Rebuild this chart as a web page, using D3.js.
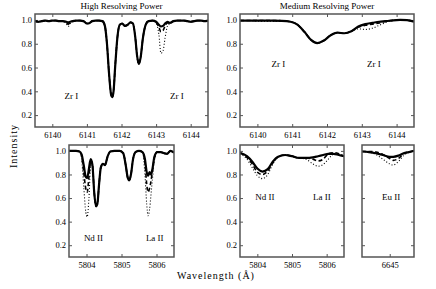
<!DOCTYPE html>
<html>
<head>
<meta charset="utf-8">
<title>Resolving power</title>
<script src="https://d3js.org/d3.v7.min.js"></script>
<style>
  body { margin: 0; background: #fff; }
  text { font-family: "Liberation Serif", "DejaVu Serif", serif; fill: #000; }
</style>
</head>
<body>
<svg id="chart" width="436" height="289"></svg>
<script>
// ---- data ----
var yTicks = [0.2, 0.4, 0.6, 0.8, 1.0];
var zrTicks = [6140, 6141, 6142, 6143, 6144];
var ndLaTicks = [5804, 5805, 5806];
var euTicks = [6645];

// high resolving power, Zr I region
var hrZrWave = [6139.50,6139.60,6139.70,6139.80,6139.90,6140.00,6140.10,6140.20,6140.30,6140.40,
  6140.46,6140.52,6140.60,6140.70,6140.80,6140.90,6141.00,6141.08,6141.15,6141.25,
  6141.35,6141.45,6141.52,6141.58,6141.64,6141.70,6141.73,6141.77,6141.82,6141.88,
  6141.95,6142.02,6142.10,6142.18,6142.26,6142.33,6142.40,6142.45,6142.50,6142.55,
  6142.62,6142.70,6142.78,6142.90,6143.00,6143.08,6143.14,6143.20,6143.26,6143.33,
  6143.40,6143.50,6143.60,6143.80,6143.90,6144.00,6144.10,6144.20,6144.30,6144.40,6144.50];
var hrZrSolid = [0.99,0.985,0.99,0.995,0.99,0.995,0.995,0.99,0.99,0.985,
  0.98,0.985,0.99,0.995,0.995,0.99,0.97,0.975,0.99,0.995,
  0.995,0.99,0.95,0.80,0.55,0.37,0.35,0.40,0.62,0.85,
  0.96,0.97,0.95,0.96,0.98,0.97,0.85,0.70,0.63,0.68,
  0.85,0.96,0.99,0.995,0.985,0.96,0.945,0.95,0.97,0.985,
  0.975,0.99,0.995,0.995,0.99,0.985,0.99,0.995,0.995,0.99,0.995];
var hrZrDashed = [0.99,0.985,0.99,0.995,0.99,0.995,0.995,0.99,0.99,0.98,
  0.965,0.98,0.99,0.995,0.995,0.99,0.97,0.975,0.99,0.995,
  0.995,0.99,0.95,0.80,0.55,0.37,0.35,0.40,0.62,0.85,
  0.96,0.97,0.95,0.96,0.98,0.97,0.85,0.70,0.63,0.68,
  0.85,0.96,0.99,0.995,0.98,0.94,0.90,0.91,0.95,0.975,
  0.97,0.99,0.995,0.995,0.99,0.985,0.99,0.995,0.995,0.99,0.995];
var hrZrDotted = [0.99,0.985,0.99,0.995,0.99,0.995,0.995,0.99,0.99,0.97,
  0.945,0.97,0.99,0.995,0.995,0.99,0.97,0.975,0.99,0.995,
  0.995,0.99,0.95,0.80,0.55,0.37,0.35,0.40,0.62,0.85,
  0.96,0.97,0.95,0.96,0.98,0.97,0.85,0.70,0.63,0.68,
  0.85,0.96,0.99,0.995,0.975,0.88,0.72,0.74,0.85,0.95,
  0.97,0.99,0.995,0.995,0.99,0.985,0.99,0.995,0.995,0.99,0.995];

// medium resolving power, Zr I region
var mrZrWave = [6139.5,6139.8,6140.1,6140.4,6140.7,6140.95,6141.15,6141.35,6141.55,6141.72,
  6141.9,6142.1,6142.3,6142.5,6142.7,6142.9,6143.1,6143.3,6143.5,6143.7,
  6143.9,6144.1,6144.3,6144.5];
var mrZrSolid = [0.995,0.995,0.995,0.995,0.993,0.985,0.96,0.90,0.83,0.805,
  0.825,0.87,0.893,0.888,0.905,0.945,0.965,0.975,0.985,0.99,
  0.997,1.0,0.998,0.985];
var mrZrDashed = [0.995,0.995,0.995,0.995,0.993,0.985,0.96,0.90,0.83,0.805,
  0.825,0.87,0.893,0.888,0.905,0.94,0.955,0.965,0.975,0.99,
  0.997,1.0,0.998,0.985];
var mrZrDotted = [0.995,0.995,0.99,0.99,0.99,0.985,0.96,0.90,0.83,0.805,
  0.825,0.87,0.893,0.888,0.905,0.925,0.92,0.93,0.955,0.98,
  0.995,1.0,0.998,0.985];

// high resolving power, Nd II / La II region
var hrNdWave = [5803.50,5803.60,5803.70,5803.80,5803.86,5803.92,5803.98,5804.02,5804.07,5804.12,
  5804.17,5804.22,5804.27,5804.31,5804.36,5804.41,5804.47,5804.53,5804.60,5804.68,
  5804.80,5804.95,5805.05,5805.12,5805.18,5805.22,5805.27,5805.33,5805.40,5805.50,
  5805.60,5805.67,5805.72,5805.76,5805.80,5805.84,5805.88,5805.94,5806.02,5806.12,
  5806.22,5806.30,5806.40,5806.50];
var hrNdSolid = [1.0,1.0,1.0,0.995,0.97,0.88,0.78,0.77,0.85,0.93,
  0.88,0.65,0.53,0.55,0.72,0.86,0.89,0.88,0.95,0.995,
  1.0,1.0,0.98,0.88,0.77,0.75,0.80,0.93,0.99,1.0,
  0.99,0.93,0.82,0.79,0.82,0.80,0.84,0.95,0.99,0.99,
  0.98,0.975,1.0,0.985];
var hrNdDashed = [1.0,1.0,1.0,0.995,0.96,0.82,0.68,0.65,0.78,0.92,
  0.88,0.65,0.53,0.55,0.72,0.86,0.89,0.88,0.95,0.995,
  1.0,1.0,0.98,0.88,0.77,0.75,0.80,0.93,0.99,1.0,
  0.99,0.90,0.72,0.65,0.68,0.74,0.82,0.94,0.99,0.99,
  0.98,0.975,1.0,0.985];
var hrNdDotted = [1.0,1.0,1.0,0.995,0.93,0.70,0.48,0.44,0.60,0.88,
  0.88,0.65,0.53,0.55,0.72,0.86,0.89,0.88,0.95,0.995,
  1.0,1.0,0.98,0.88,0.77,0.75,0.80,0.93,0.99,1.0,
  0.99,0.80,0.55,0.45,0.50,0.62,0.75,0.92,0.99,0.99,
  0.98,0.975,1.0,0.985];

// medium resolving power, Nd II / La II region
var mrNdWave = [5803.5,5803.7,5803.85,5804.0,5804.15,5804.3,5804.45,5804.6,5804.8,5805.0,
  5805.2,5805.4,5805.6,5805.75,5805.9,5806.05,5806.2,5806.35,5806.5];
var mrNdSolid = [0.985,0.955,0.91,0.85,0.825,0.845,0.91,0.95,0.965,0.955,
  0.94,0.94,0.945,0.955,0.965,0.975,0.975,0.965,0.955];
var mrNdDashed = [0.98,0.945,0.89,0.82,0.80,0.83,0.90,0.95,0.965,0.955,
  0.94,0.94,0.93,0.915,0.93,0.975,0.985,0.975,0.955];
var mrNdDotted = [0.975,0.93,0.86,0.79,0.765,0.80,0.89,0.95,0.965,0.955,
  0.94,0.93,0.89,0.87,0.885,0.93,0.97,0.97,0.955];

// medium resolving power, Eu II region
var mrEuWave = [6644.2,6644.4,6644.6,6644.8,6645.0,6645.1,6645.25,6645.4,6645.55,6645.7];
var mrEuSolid = [0.995,0.99,0.98,0.965,0.95,0.95,0.96,0.98,0.99,1.0];
var mrEuDashed = [0.995,0.995,0.99,0.97,0.935,0.92,0.935,0.975,0.99,1.0];
var mrEuDotted = [0.995,0.99,0.97,0.93,0.89,0.88,0.91,0.96,0.99,1.0];

// ---- drawing ----
var svg = d3.select("#chart");

var panels = [
  { id: "p1", x: 35, y: 14, w: 173, h: 113, dom: [6139.5, 6144.5], ticks: zrTicks, ylab: true,
    wave: hrZrWave, solid: hrZrSolid, dashed: hrZrDashed, dotted: hrZrDotted,
    title: "High Resolving Power", labels: [["Zr I", 6140.55, 0.36], ["Zr I", 6143.6, 0.36]] },
  { id: "p2", x: 240, y: 14, w: 174, h: 113, dom: [6139.5, 6144.5], ticks: zrTicks, ylab: true,
    wave: mrZrWave, solid: mrZrSolid, dashed: mrZrDashed, dotted: mrZrDotted,
    title: "Medium Resolving Power", labels: [["Zr I", 6140.6, 0.63], ["Zr I", 6143.35, 0.63]] },
  { id: "p3", x: 69, y: 145, w: 105, h: 112, dom: [5803.5, 5806.5], ticks: ndLaTicks, ylab: true,
    wave: hrNdWave, solid: hrNdSolid, dashed: hrNdDashed, dotted: hrNdDotted,
    labels: [["Nd II", 5804.2, 0.26], ["La II", 5805.95, 0.26]] },
  { id: "p4", x: 240, y: 145, w: 104, h: 112, dom: [5803.5, 5806.5], ticks: ndLaTicks, ylab: true,
    wave: mrNdWave, solid: mrNdSolid, dashed: mrNdDashed, dotted: mrNdDotted,
    labels: [["Nd II", 5804.22, 0.61], ["La II", 5805.86, 0.61]] },
  { id: "p5", x: 362, y: 145, w: 52, h: 112, dom: [6644.2, 6645.7], ticks: euTicks, ylab: false,
    wave: mrEuWave, solid: mrEuSolid, dashed: mrEuDashed, dotted: mrEuDotted,
    labels: [["Eu II", 6645.04, 0.61]] }
];

panels.forEach(function(p) {
  var x = d3.scaleLinear().domain(p.dom).range([0, p.w]);
  var y = d3.scaleLinear().domain([0.1, 1.05]).range([p.h, 0]);
  var g = svg.append("g").attr("transform", "translate(" + p.x + "," + p.y + ")");

  g.append("clipPath").attr("id", "clip-" + p.id)
    .append("rect").attr("width", p.w).attr("height", p.h);

  // axes, ticks pointing inward
  var bottom = g.append("g").attr("transform", "translate(0," + p.h + ")")
    .call(d3.axisBottom(x).tickValues(p.ticks).tickSize(-3).tickPadding(5).tickFormat(d3.format("d")));
  var top = g.append("g")
    .call(d3.axisTop(x).tickValues(p.ticks).tickSize(-3).tickFormat(""));
  var left = g.append("g")
    .call(d3.axisLeft(y).tickValues(yTicks).tickSize(-3).tickPadding(3)
      .tickFormat(p.ylab ? d3.format(".1f") : ""));
  var right = g.append("g").attr("transform", "translate(" + p.w + ",0)")
    .call(d3.axisRight(y).tickValues(yTicks).tickSize(-3).tickFormat(""));

  [bottom, top, left, right].forEach(function(a) {
    a.select(".domain").remove();
    a.selectAll("line").attr("stroke", "#555");
    a.selectAll("text").style("font-family", "Liberation Serif").style("font-size", "8.5px");
  });

  var line = d3.line()
    .x(function(d) { return x(d[0]); })
    .y(function(d) { return y(d[1]); })
    .curve(d3.curveMonotoneX);

  var lg = g.append("g").attr("clip-path", "url(#clip-" + p.id + ")");
  lg.append("path").datum(d3.zip(p.wave, p.dotted)).attr("d", line)
    .attr("fill", "none").attr("stroke", "#000").attr("stroke-width", 1.1)
    .attr("stroke-dasharray", "1,2");
  lg.append("path").datum(d3.zip(p.wave, p.dashed)).attr("d", line)
    .attr("fill", "none").attr("stroke", "#000").attr("stroke-width", 1.6)
    .attr("stroke-dasharray", "4,2.5");
  lg.append("path").datum(d3.zip(p.wave, p.solid)).attr("d", line)
    .attr("fill", "none").attr("stroke", "#000").attr("stroke-width", 2.2);

  g.append("rect").attr("width", p.w).attr("height", p.h)
    .attr("fill", "none").attr("stroke", "#555").attr("stroke-width", 1.5);

  p.labels.forEach(function(l) {
    g.append("text").attr("x", x(l[1])).attr("y", y(l[2]))
      .attr("text-anchor", "middle").attr("dominant-baseline", "central")
      .style("font-size", "9px").text(l[0]);
  });

  if (p.title) {
    g.append("text").attr("x", p.w / 2).attr("y", -5)
      .attr("text-anchor", "middle").style("font-size", "9px").text(p.title);
  }
});

svg.append("text").attr("transform", "translate(17,146) rotate(-90)")
  .attr("text-anchor", "middle").style("font-size", "10px").style("letter-spacing", "1px")
  .text("Intensity");

svg.append("text").attr("x", 216).attr("y", 279)
  .attr("text-anchor", "middle").style("font-size", "10px").style("letter-spacing", "1px")
  .text("Wavelength  (Å)");
</script>
</body>
</html>
